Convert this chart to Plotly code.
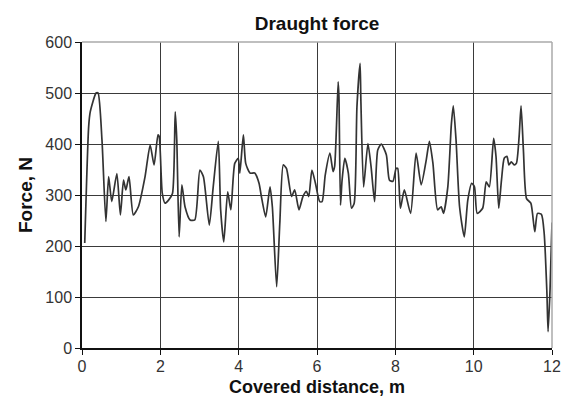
import plotly.graph_objects as go

distance_m = [0.07, 0.17, 0.21, 0.36, 0.41, 0.51, 0.61, 0.68, 0.76, 0.89, 0.98, 1.06, 1.12, 1.2, 1.31, 1.44,
              1.61, 1.74, 1.84, 1.94, 1.97, 2.05, 2.12, 2.21, 2.31, 2.38, 2.42, 2.48, 2.55, 2.63, 2.76, 2.88,
              3.01, 3.1, 3.25, 3.35, 3.48, 3.54, 3.62, 3.72, 3.8, 3.9, 3.99, 4.03, 4.12, 4.18, 4.29, 4.41,
              4.52, 4.58, 4.69, 4.8, 4.86, 4.97, 5.05, 5.14, 5.22, 5.35, 5.43, 5.54, 5.64, 5.73, 5.79, 5.87,
              5.96, 6.07, 6.13, 6.21, 6.33, 6.41, 6.45, 6.54, 6.56, 6.6, 6.64, 6.71, 6.8, 6.88, 6.95, 7.02,
              7.1, 7.12, 7.19, 7.3, 7.38, 7.47, 7.55, 7.64, 7.77, 7.85, 7.94, 8.02, 8.06, 8.13, 8.23, 8.39,
              8.53, 8.66, 8.79, 8.87, 8.96, 9.08, 9.17, 9.23, 9.34, 9.43, 9.48, 9.55, 9.64, 9.76, 9.85, 9.95,
              10.02, 10.09, 10.23, 10.32, 10.4, 10.51, 10.57, 10.64, 10.71, 10.78, 10.85, 10.9, 10.96, 11.03,
              11.09, 11.16, 11.21, 11.27, 11.35, 11.46, 11.56, 11.63, 11.73, 11.8, 11.87, 11.9, 11.95, 12.0]
force_n = [206, 434, 463, 500, 500, 408, 248, 336, 287, 342, 261, 329, 310, 336, 261, 277,
           336, 398, 359, 418, 415, 303, 284, 290, 303, 463, 408, 218, 320, 277, 251, 251,
           349, 336, 241, 316, 405, 271, 208, 306, 271, 362, 372, 343, 418, 362, 343, 343,
           323, 297, 257, 316, 277, 120, 244, 359, 352, 297, 310, 271, 297, 307, 297, 349,
           323, 287, 287, 339, 382, 346, 356, 522, 493, 280, 329, 372, 343, 274, 284, 473,
           558, 486, 316, 401, 356, 287, 388, 400, 379, 329, 327, 352, 352, 274, 310, 264,
           382, 320, 369, 405, 362, 271, 277, 264, 316, 438, 475, 408, 277, 218, 290, 323,
           316, 264, 274, 326, 316, 411, 376, 274, 329, 372, 376, 359, 365, 359,
           362, 414, 475, 388, 293, 284, 228, 264, 262, 225, 108, 32, 114, 246]

x_ticks = [0, 2, 4, 6, 8, 10, 12]
y_ticks = [0, 100, 200, 300, 400, 500, 600]

fig = go.Figure()
fig.add_trace(go.Scatter(
    x=distance_m, y=force_n, mode="lines",
    line=dict(color="#333333", width=1.7, shape="spline", smoothing=0.6),
    showlegend=False, hoverinfo="skip",
))

font_family = "Liberation Sans, Arial, sans-serif"
fig.update_layout(
    width=565, height=398,
    margin=dict(l=82, r=13, t=42, b=50, autoexpand=False),
    paper_bgcolor="white", plot_bgcolor="white",
    title=dict(text="<b>Draught force</b>", x=317 / 565, xanchor="center",
               y=1 - 23 / 398, yanchor="middle",
               font=dict(family=font_family, size=19, color="#111111")),
    font=dict(family=font_family),
)
fig.update_xaxes(
    range=[0, 12], tickvals=x_ticks, ticktext=[str(v) for v in x_ticks],
    showgrid=True, gridcolor="#3a3a3a", gridwidth=1.3,
    showline=True, linecolor="#111111", linewidth=1.5,
    mirror=False, ticks="outside", ticklen=5, tickcolor="#111111",
    tickfont=dict(size=16, color="#333333"), ticklabelstandoff=-2,
    zeroline=False, automargin=False,
)
fig.update_yaxes(
    range=[0, 600], tickvals=y_ticks, ticktext=[str(v) for v in y_ticks],
    showgrid=True, gridcolor="#3a3a3a", gridwidth=1.3,
    showline=True, linecolor="#111111", linewidth=1.5,
    ticks="outside", ticklen=5, tickcolor="#111111",
    tickfont=dict(size=16, color="#333333"),
    title=dict(text="<b>Force, N</b>", font=dict(size=19, color="#111111"), standoff=8),
    zeroline=False, automargin=False,
)
fig.add_annotation(
    text="<b>Covered distance, m</b>", xref="paper", yref="paper",
    x=0.5, xanchor="center", y=-39 / 306, yanchor="middle", showarrow=False,
    font=dict(family=font_family, size=18, color="#111111"),
)
# light border on top and right
fig.add_shape(type="line", xref="paper", yref="paper", x0=0, x1=1, y0=1, y1=1,
              line=dict(color="#aaaaaa", width=1.5))
fig.add_shape(type="line", xref="paper", yref="paper", x0=1, x1=1, y0=0, y1=1,
              line=dict(color="#aaaaaa", width=1.5))

fig.write_html("out.html")
